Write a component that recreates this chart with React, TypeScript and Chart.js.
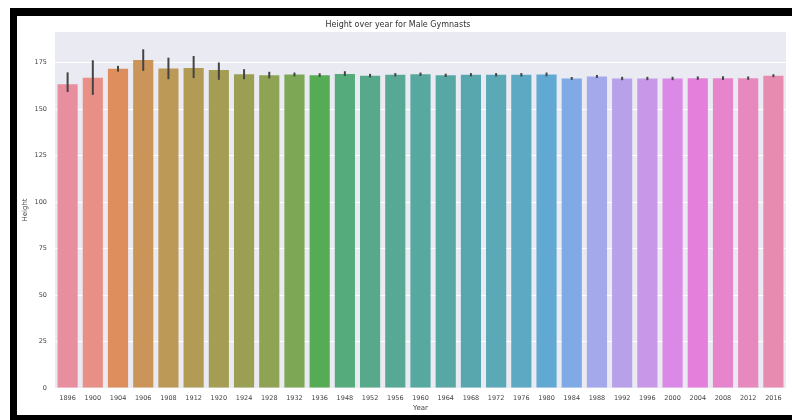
import React, { useEffect, useRef } from "react";
import { Chart, registerables } from "chart.js";

Chart.register(...registerables);

const years = [
  "1896", "1900", "1904", "1906", "1908", "1912", "1920", "1924", "1928", "1932",
  "1936", "1948", "1952", "1956", "1960", "1964", "1968", "1972", "1976", "1980",
  "1984", "1988", "1992", "1996", "2000", "2004", "2008", "2012", "2016",
];

const meanHeight = [
  163.3, 166.8, 171.6, 176.4, 171.8, 172.1, 171.0, 168.7, 168.2, 168.5,
  168.1, 168.8, 167.9, 168.4, 168.7, 168.1, 168.4, 168.4, 168.4, 168.6,
  166.4, 167.5, 166.4, 166.4, 166.4, 166.6, 166.6, 166.6, 167.9,
];

const ciLower = [
  159.1, 157.6, 170.1, 170.5, 166.0, 166.6, 165.7, 166.0, 166.5, 167.5,
  167.3, 167.8, 167.0, 167.5, 167.8, 167.2, 167.5, 167.5, 167.5, 167.6,
  165.7, 166.7, 165.5, 165.5, 165.5, 165.7, 165.6, 165.7, 167.1,
];

const ciUpper = [
  169.7, 176.2, 173.2, 182.1, 177.6, 178.5, 175.0, 171.4, 170.0, 169.6,
  169.2, 170.3, 168.9, 169.3, 169.6, 169.0, 169.3, 169.3, 169.3, 169.6,
  167.2, 168.3, 167.3, 167.3, 167.3, 167.5, 167.6, 167.5, 168.7,
];

const yTickValues = [0, 25, 50, 75, 100, 125, 150, 175];

// ---- seaborn-like husl palette (style only) ----
const M = [
  [3.2406, -1.5372, -0.4986],
  [-0.9689, 1.8758, 0.0415],
  [0.0557, -0.204, 1.057],
];
const refU = 0.19784;
const refV = 0.46834;
const labE = 0.008856;
const labK = 903.3;

function maxChroma(L: number, H: number) {
  const hrad = (H / 360) * 2 * Math.PI;
  const sinH = Math.sin(hrad);
  const cosH = Math.cos(hrad);
  const sub1 = Math.pow(L + 16, 3) / 1560896;
  const sub2 = sub1 > labE ? sub1 : L / labK;
  let result = Infinity;
  for (const row of M) {
    const [m1, m2, m3] = row;
    const top = (0.99915 * m1 + 1.05122 * m2 + 1.1446 * m3) * sub2;
    const rbottom = 0.8633 * m3 - 0.17266 * m2;
    const lbottom = 0.12949 * m3 - 0.38848 * m1;
    const bottom = (rbottom * sinH + lbottom * cosH) * sub2;
    for (const t of [0, 1]) {
      const C = (L * (top - 1.05122 * t)) / (bottom + 0.17266 * sinH * t);
      if (C > 0 && C < result) result = C;
    }
  }
  return result;
}

function fInv(t: number) {
  return Math.pow(t, 3) > labE ? Math.pow(t, 3) : (116 * t - 16) / labK;
}

function fromLinear(c: number) {
  return c <= 0.0031308 ? 12.92 * c : 1.055 * Math.pow(c, 1 / 2.4) - 0.055;
}

function huslToRgb(H: number, S: number, L: number): number[] {
  const C = (maxChroma(L, H) / 100) * S;
  const hrad = (H / 360) * 2 * Math.PI;
  const U = Math.cos(hrad) * C;
  const V = Math.sin(hrad) * C;
  const varY = fInv((L + 16) / 116);
  const varU = U / (13 * L) + refU;
  const varV = V / (13 * L) + refV;
  const Y = varY;
  const X = 0 - (9 * Y * varU) / ((varU - 4) * varV - varU * varV);
  const Z = (9 * Y - 15 * varV * Y - varV * X) / (3 * varV);
  return M.map((r) =>
    Math.min(1, Math.max(0, fromLinear(r[0] * X + r[1] * Y + r[2] * Z)))
  );
}

function pmod(a: number, b: number) {
  return ((a % b) + b) % b;
}

function rgbToHls(r: number, g: number, b: number) {
  const maxc = Math.max(r, g, b);
  const minc = Math.min(r, g, b);
  const l = (minc + maxc) / 2;
  if (minc === maxc) return [0, l, 0];
  const s = l <= 0.5 ? (maxc - minc) / (maxc + minc) : (maxc - minc) / (2 - maxc - minc);
  const rc = (maxc - r) / (maxc - minc);
  const gc = (maxc - g) / (maxc - minc);
  const bc = (maxc - b) / (maxc - minc);
  let h;
  if (r === maxc) h = bc - gc;
  else if (g === maxc) h = 2 + rc - bc;
  else h = 4 + gc - rc;
  h = pmod(h / 6, 1);
  return [h, l, s];
}

function vv(m1: number, m2: number, hue: number) {
  hue = pmod(hue, 1);
  if (hue < 1 / 6) return m1 + (m2 - m1) * hue * 6;
  if (hue < 0.5) return m2;
  if (hue < 2 / 3) return m1 + (m2 - m1) * (2 / 3 - hue) * 6;
  return m1;
}

function hlsToRgb(h: number, l: number, s: number) {
  if (s === 0) return [l, l, l];
  const m2 = l <= 0.5 ? l * (1 + s) : l + s - l * s;
  const m1 = 2 * l - m2;
  return [vv(m1, m2, h + 1 / 3), vv(m1, m2, h), vv(m1, m2, h - 1 / 3)];
}

function paletteColors(n: number): string[] {
  const out: string[] = [];
  const lift = 0.1; // slight wash toward white, as in the reference image
  for (let i = 0; i < n; i++) {
    const hue = pmod(i / n + 0.01, 1) * 359;
    const rgb = huslToRgb(hue, 0.9 * 99, 0.65 * 99);
    const [h, l, s] = rgbToHls(rgb[0], rgb[1], rgb[2]);
    const d = hlsToRgb(h, l, s * 0.75).map((c) => c + (1 - c) * lift);
    out.push(
      `rgb(${Math.round(d[0] * 255)}, ${Math.round(d[1] * 255)}, ${Math.round(d[2] * 255)})`
    );
  }
  return out;
}

const FONT = "'DejaVu Sans', sans-serif";

export default function App() {
  const canvasRef = useRef<HTMLCanvasElement | null>(null);

  useEffect(() => {
    const canvas = canvasRef.current;
    if (!canvas) return;

    const bgPlugin = {
      id: "plotBg",
      beforeDraw(chart: any) {
        const { ctx, chartArea } = chart;
        ctx.save();
        ctx.fillStyle = "#EAEAF2";
        ctx.fillRect(
          chartArea.left,
          chartArea.top,
          chartArea.right - chartArea.left,
          chartArea.bottom - chartArea.top
        );
        ctx.restore();
      },
    };

    const errPlugin = {
      id: "errBars",
      afterDatasetsDraw(chart: any) {
        const { ctx } = chart;
        const meta = chart.getDatasetMeta(0);
        const yScale = chart.scales.y;
        ctx.save();
        ctx.strokeStyle = "#444444";
        ctx.lineWidth = 2;
        meta.data.forEach((bar: any, i: number) => {
          const x = bar.x;
          const y1 = yScale.getPixelForValue(ciLower[i]);
          const y2 = yScale.getPixelForValue(ciUpper[i]);
          ctx.beginPath();
          ctx.moveTo(x, y1);
          ctx.lineTo(x, y2);
          ctx.stroke();
        });
        ctx.restore();
      },
    };

    const chart = new Chart(canvas, {
      type: "bar",
      data: {
        labels: years,
        datasets: [
          {
            data: meanHeight,
            backgroundColor: paletteColors(years.length),
            borderWidth: 0,
            categoryPercentage: 1,
            barPercentage: 0.8,
          },
        ],
      },
      options: {
        animation: false,
        responsive: false,
        devicePixelRatio: 1,
        layout: { padding: { left: 10, right: 6, top: 0, bottom: 0 } },
        plugins: {
          legend: { display: false },
          tooltip: { enabled: false },
          title: {
            display: true,
            text: "Height over year for Male Gymnasts",
            color: "#333333",
            font: { family: FONT, size: 8, weight: "normal" },
            padding: { top: 20, bottom: 2.4 },
          },
        },
        scales: {
          x: {
            grid: { display: false, drawTicks: false },
            border: { display: false },
            ticks: {
              color: "#444444",
              font: { family: FONT, size: 6.5 },
              padding: 6,
              maxRotation: 0,
              autoSkip: false,
            },
            title: {
              display: true,
              text: "Year",
              color: "#444444",
              font: { family: FONT, size: 7 },
              padding: { top: 0, bottom: 8 },
            },
            afterFit(scale: any) {
              scale.height = 32;
            },
          },
          y: {
            min: 0,
            max: 191.4,
            grid: { color: "#ffffff", lineWidth: 1, drawTicks: false },
            border: { display: false },
            afterBuildTicks(scale: any) {
              scale.ticks = yTickValues.map((v) => ({ value: v }));
            },
            ticks: {
              color: "#444444",
              font: { family: FONT, size: 6.5 },
              padding: 8,
            },
            title: {
              display: true,
              text: "Height",
              color: "#444444",
              font: { family: FONT, size: 7 },
              padding: { top: 11, bottom: 0 },
            },
            afterFit(scale: any) {
              scale.width = 45;
            },
          },
        },
      },
      plugins: [bgPlugin, errPlugin],
    });

    return () => {
      chart.destroy();
    };
  }, []);

  return (
    <div
      style={{
        position: "fixed",
        left: 0,
        top: 0,
        width: 792,
        height: 420,
        background: "#ffffff",
        overflow: "hidden",
      }}
    >
      <canvas
        ref={canvasRef}
        width={792}
        height={420}
        style={{ position: "absolute", left: 0, top: 0, width: 792, height: 420 }}
      />
      <div style={{ position: "absolute", left: 10, top: 8, width: 782, height: 8, background: "#000" }} />
      <div style={{ position: "absolute", left: 10, top: 8, width: 7, height: 412, background: "#000" }} />
      <div style={{ position: "absolute", left: 10, top: 415, width: 782, height: 5, background: "#000" }} />
    </div>
  );
}
